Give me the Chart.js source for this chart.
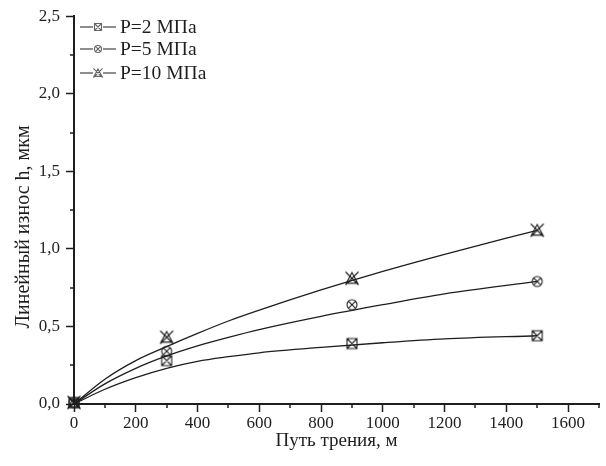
<!DOCTYPE html>
<html>
<head>
<meta charset="utf-8">
<script src="https://cdn.jsdelivr.net/npm/chart.js@4"></script>
<style>
  body { margin: 0; background: #fff; }
  #wrap { width: 606px; height: 466px; }
</style>
</head>
<body>
<div id="wrap"><canvas id="chart"></canvas></div>
<script>
// DATA
const seriesNames = ['P=2 МПа', 'P=5 МПа', 'P=10 МПа'];

// fitted curves
const curveX   = [0, 100, 200, 300, 400, 500, 600, 800, 1000, 1200, 1500];
const curveP2  = [0, 0.095, 0.17, 0.23, 0.275, 0.305, 0.33, 0.365, 0.395, 0.42, 0.44];
const curveP5  = [0, 0.13, 0.23, 0.31, 0.375, 0.43, 0.48, 0.565, 0.64, 0.71, 0.79];
const curveP10 = [0, 0.16, 0.28, 0.37, 0.455, 0.535, 0.605, 0.735, 0.855, 0.965, 1.12];

// measured points
const markX   = [0, 300, 900, 1500];
const markP2  = [0.01, 0.28, 0.39, 0.44];
const markP5  = [0.01, 0.34, 0.64, 0.79];
const markP10 = [0.01, 0.43, 0.81, 1.12];

const xTicks = [0, 200, 400, 600, 800, 1000, 1200, 1400, 1600];
const yTicks = [0, 0.5, 1.0, 1.5, 2.0, 2.5];
const xMinor = [100, 300, 500, 700, 900, 1100, 1300, 1500, 1700];
const yMinor = [0.25, 0.75, 1.25, 1.75, 2.25];

const xTitle = 'Путь трения, м';
const yTitle = 'Линейный износ h, мкм';

const ink = '#1e1e1e';
const serif = "'Liberation Serif', 'Times New Roman', serif";

function pairs(xs, ys) {
  return xs.map((x, i) => ({ x: x, y: ys[i] }));
}

// marker images
function makeMarker(kind, s, color) {
  let c = document.createElement('canvas');
  let n = Math.ceil(s * 1.6) + 2;
  c.width = n; c.height = n;
  let g = c.getContext('2d');
  g.strokeStyle = color;
  g.lineWidth = 1.1;
  let m = n / 2, h = s / 2;
  g.beginPath();
  if (kind == 'square') {
    g.rect(m - h, m - h, s, s);
    g.moveTo(m - h, m - h); g.lineTo(m + h, m + h);
    g.moveTo(m + h, m - h); g.lineTo(m - h, m + h);
  } else if (kind == 'circle') {
    g.arc(m, m, h, 0, Math.PI * 2);
    let d = h * 0.72;
    g.moveTo(m - d, m - d); g.lineTo(m + d, m + d);
    g.moveTo(m + d, m - d); g.lineTo(m - d, m + d);
  } else {
    let t = h * 1.15;
    g.moveTo(m, m - t); g.lineTo(m + t, m + t * 0.85); g.lineTo(m - t, m + t * 0.85); g.closePath();
    let e = h * 1.3;
    g.moveTo(m - e, m - e); g.lineTo(m + e, m + e);
    g.moveTo(m + e, m - e); g.lineTo(m - e, m + e);
  }
  g.stroke();
  return c;
}

const kinds = ['square', 'circle', 'triangle'];
const plotMarkers = kinds.map(k => makeMarker(k, 10, ink));
const legendMarkers = kinds.map(k => makeMarker(k, 7, '#666'));

function curveSet(ys) {
  return {
    data: pairs(curveX, ys), showLine: true, pointRadius: 0,
    borderColor: ink, borderWidth: 1.3, cubicInterpolationMode: 'monotone', fill: false
  };
}
function markSet(ys, i) {
  return {
    data: pairs(markX, ys), showLine: false, pointStyle: plotMarkers[i],
    pointRadius: 6, borderColor: ink, clip: false
  };
}

// minor ticks, y title and legend
const extras = {
  id: 'extras',
  afterDraw(chart) {
    let ctx = chart.ctx, xs = chart.scales.x, ys = chart.scales.y;
    let a = chart.chartArea;
    ctx.save();
    ctx.strokeStyle = ink;
    ctx.lineWidth = 1.5;
    ctx.beginPath();
    xMinor.forEach(v => {
      let px = Math.round(xs.getPixelForValue(v));
      ctx.moveTo(px, a.bottom); ctx.lineTo(px, a.bottom + 4);
    });
    yMinor.forEach(v => {
      let py = Math.round(ys.getPixelForValue(v));
      ctx.moveTo(a.left, py); ctx.lineTo(a.left - 4, py);
    });
    ctx.stroke();

    // y title, a bit below the axis centre like in the original
    ctx.save();
    ctx.translate(24, 227);
    ctx.rotate(-Math.PI / 2);
    ctx.font = '20px ' + serif;
    ctx.fillStyle = ink;
    ctx.textAlign = 'center';
    ctx.textBaseline = 'middle';
    ctx.fillText(yTitle, 0, 0);
    ctx.restore();

    // legend
    let rows = [27, 49, 73];
    ctx.font = '19.5px ' + serif;
    ctx.fillStyle = ink;
    ctx.textBaseline = 'middle';
    ctx.lineWidth = 1.2;
    seriesNames.forEach((name, i) => {
      let y = rows[i];
      ctx.beginPath();
      ctx.moveTo(80, y); ctx.lineTo(93, y);
      ctx.moveTo(103, y); ctx.lineTo(116, y);
      ctx.stroke();
      let img = legendMarkers[i];
      ctx.drawImage(img, 98 - img.width / 2, y - img.height / 2);
      ctx.fillText(name, 120, y + 1);
    });
    ctx.restore();
  }
};

new Chart(document.getElementById('chart'), {
  type: 'scatter',
  data: {
    datasets: [
      curveSet(curveP2), curveSet(curveP5), curveSet(curveP10),
      markSet(markP2, 0), markSet(markP5, 1), markSet(markP10, 2)
    ]
  },
  options: {
    responsive: true,
    maintainAspectRatio: false,
    animation: false,
    layout: { padding: { top: 16, right: 5, left: 0, bottom: 0 } },
    plugins: { legend: { display: false }, tooltip: { enabled: false } },
    scales: {
      x: {
        type: 'linear', min: 0, max: 1700,
        afterFit(s) { s.height = 62; },
        afterBuildTicks(s) { s.ticks = xTicks.map(v => ({ value: v })); },
        ticks: { color: ink, font: { family: serif, size: 17 }, padding: 1, maxRotation: 0,
                 callback: v => String(v) },
        grid: { drawOnChartArea: false, drawTicks: true, tickLength: 8, tickColor: ink, tickWidth: 1.5 },
        border: { display: true, color: ink, width: 2 },
        title: { display: true, text: xTitle, color: ink,
                 font: { family: serif, size: 19 }, padding: { top: 0, bottom: 14 } }
      },
      y: {
        type: 'linear', min: 0, max: 2.5,
        afterFit(s) { s.width = 74; },
        afterBuildTicks(s) { s.ticks = yTicks.map(v => ({ value: v })); },
        ticks: {
          color: ink, font: { family: serif, size: 17 }, padding: 6,
          callback: v => v.toFixed(1).replace('.', ',')
        },
        grid: { drawOnChartArea: false, drawTicks: true, tickLength: 8, tickColor: ink, tickWidth: 1.5 },
        border: { display: true, color: ink, width: 2 }
      }
    }
  },
  plugins: [extras]
});
</script>
</body>
</html>
